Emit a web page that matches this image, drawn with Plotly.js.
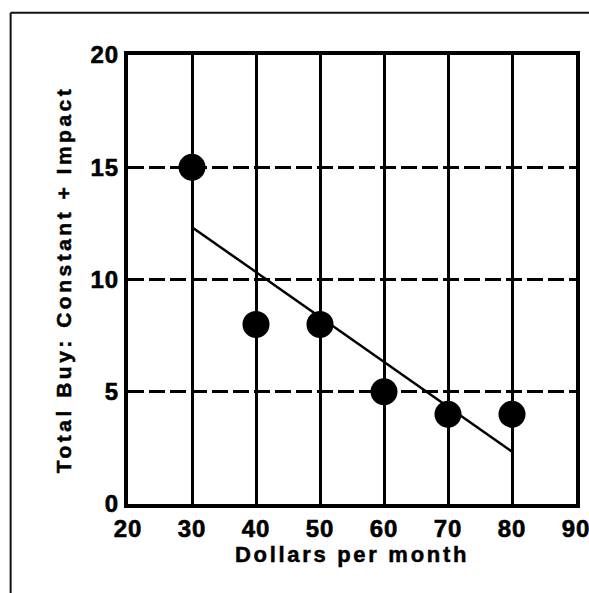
<!DOCTYPE html>
<html>
<head>
<meta charset="utf-8">
<script src="https://cdn.plot.ly/plotly-3.0.1.min.js"></script>
<style>
html, body { margin: 0; padding: 0; background: #fff; }
#chart { width: 589px; height: 593px; }
.xtitle { letter-spacing: 2.7px; font-weight: bold !important; stroke: #000; stroke-width: 0.5px; }
.ytitle { letter-spacing: 3.5px; font-weight: bold !important; stroke: #000; stroke-width: 0.5px; }
.xtick text, .ytick text { letter-spacing: 1px; font-weight: bold !important; stroke: #000; stroke-width: 0.6px; }
</style>
</head>
<body>
<div id="chart"></div>
<script>
// Data
var dollars = [30, 40, 50, 60, 70, 80];
var totalBuy = [15, 8, 8, 5, 4, 4];
var fitX = [30, 80];
var fitY = [12.33, 2.33];
var xTicks = [20, 30, 40, 50, 60, 70, 80, 90];
var yTicks = [0, 5, 10, 15, 20];
var xTitle = 'Dollars per month';
var yTitle = 'Total Buy: Constant + Impact';

var font = 'Liberation Sans, Arial, Helvetica, sans-serif';

var traces = [
  {
    x: fitX, y: fitY, mode: 'lines', type: 'scatter',
    line: { color: '#000', width: 2.5 }, hoverinfo: 'skip', showlegend: false
  },
  {
    x: dollars, y: totalBuy, mode: 'markers', type: 'scatter',
    marker: { color: '#000', size: 27, line: { width: 0 } }, showlegend: false
  }
];

var layout = {
  width: 589, height: 593,
  margin: { l: 128, r: 13, t: 55, b: 89 },
  paper_bgcolor: '#fff', plot_bgcolor: '#fff',
  font: { family: font, color: '#000' },
  showlegend: false,
  xaxis: {
    range: [20, 90], tickvals: xTicks, ticktext: xTicks.map(function (v) { return '<b>' + v + '</b>'; }),
    ticklabeloverflow: 'allow',
    showgrid: true, gridcolor: '#000', gridwidth: 3,
    zeroline: false, showline: true, linecolor: '#000', linewidth: 4, mirror: true,
    ticks: '', tickfont: { family: font, size: 24, color: '#000', weight: 700 },
    title: { text: '<b>' + xTitle + '</b>', font: { family: font, size: 22, color: '#000', weight: 700 }, standoff: 6 },
    automargin: false, fixedrange: true
  },
  yaxis: {
    range: [0, 20], tickvals: yTicks, ticktext: yTicks.map(function (v) { return '<b>' + v + '</b>'; }),
    ticklabeloverflow: 'allow',
    showgrid: true, gridcolor: '#000', gridwidth: 3, griddash: '16px,5px',
    zeroline: false, showline: true, linecolor: '#000', linewidth: 4, mirror: true,
    ticks: '', tickfont: { family: font, size: 24, color: '#000', weight: 700 },
    title: { text: '<b>' + yTitle + '</b>', font: { family: font, size: 21, color: '#000', weight: 700 }, standoff: 14 },
    automargin: false, fixedrange: true
  },
  shapes: [
    { type: 'line', xref: 'paper', yref: 'paper', x0: -0.262, x1: 1.1, y0: 1.094, y1: 1.094,
      line: { color: '#111', width: 2 } },
    { type: 'line', xref: 'paper', yref: 'paper', x0: -0.262, x1: -0.262, y0: 1.094, y1: -0.3,
      line: { color: '#111', width: 2 } }
  ]
};

Plotly.newPlot('chart', traces, layout, { displayModeBar: false, staticPlot: true });
</script>
</body>
</html>
